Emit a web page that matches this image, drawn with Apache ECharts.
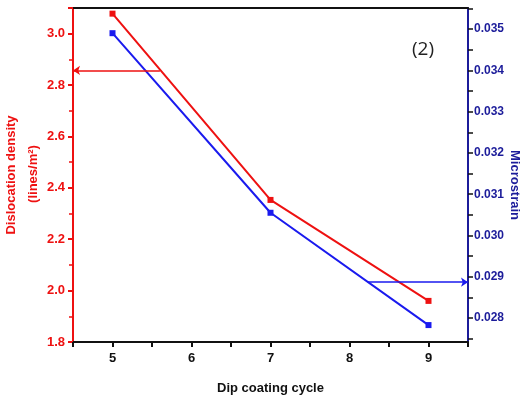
<!DOCTYPE html>
<html>
<head>
<meta charset="utf-8">
<script src="https://cdn.jsdelivr.net/npm/echarts@6/dist/echarts.min.js"></script>
<style>html,body{margin:0;padding:0;background:#fff;}#c{width:523px;height:403px;}</style>
</head>
<body>
<div id="c"></div>
<script>
// ---- data ----
const cycles = [5, 7, 9];
const dislocationDensity = [3.078, 2.353, 1.96];
const microstrain = [0.0349, 0.03055, 0.02783];
const xTickLabels = [5, 6, 7, 8, 9];
const leftTickLabels = [1.8, 2.0, 2.2, 2.4, 2.6, 2.8, 3.0];
const rightTickLabels = [0.028, 0.029, 0.030, 0.031, 0.032, 0.033, 0.034, 0.035];
const rightMinorTicks = [0.0275, 0.0285, 0.0295, 0.0305, 0.0315, 0.0325, 0.0335, 0.0345, 0.0355];
const redArrow = [[5.6, 2.857], [4.5, 2.857]];
const blueArrow = [[8.23, 0.02887], [9.5, 0.02887]];

const RED = '#ee1111';
const BLUE = '#1a1aee';
const NAVY = '#1c1c9a';
const FONT = '"Liberation Sans", Arial, sans-serif';

const chart = echarts.init(document.getElementById('c'));
chart.setOption({
  animation: false,
  backgroundColor: '#fff',
  grid: { left: 73, right: 55, top: 8, bottom: 61 },
  xAxis: [{
    type: 'value', min: 4.5, max: 9.5, interval: 0.5,
    axisLine: { lineStyle: { color: '#111', width: 2 } },
    axisTick: { show: true, length: 5, lineStyle: { color: '#111', width: 2 } },
    axisLabel: {
      color: '#111', fontWeight: 'bold', fontSize: 13, fontFamily: FONT, margin: 10,
      formatter: v => (xTickLabels.indexOf(v) >= 0 ? String(v) : '')
    },
    splitLine: { show: false },
    name: 'Dip coating cycle', nameLocation: 'middle', nameGap: 40,
    nameTextStyle: { color: '#111', fontWeight: 'bold', fontSize: 13, fontFamily: FONT }
  }, {
    type: 'value', min: 4.5, max: 9.5, position: 'top',
    axisLine: { lineStyle: { color: '#111', width: 2 } },
    axisTick: { show: false }, axisLabel: { show: false }, splitLine: { show: false }
  }],
  yAxis: [{
    type: 'value', min: 1.8, max: 3.1, interval: 0.2, position: 'left',
    axisLine: { show: true, lineStyle: { color: RED, width: 2 } },
    axisTick: { show: true, length: 5, lineStyle: { color: RED, width: 2 } },
    minorTick: { show: true, splitNumber: 2, length: 4, lineStyle: { color: RED, width: 1.5 } },
    axisLabel: {
      color: RED, fontWeight: 'bold', fontSize: 13, fontFamily: FONT, margin: 8,
      formatter: v => { const r = Math.round(v * 10) / 10; return leftTickLabels.indexOf(r) >= 0 ? r.toFixed(1) : ''; }
    },
    splitLine: { show: false }
  }, {
    type: 'value', min: 0.02742, max: 0.03551, position: 'right',
    axisLine: { show: true, lineStyle: { color: NAVY, width: 2 } },
    axisTick: { show: true, length: 5, customValues: rightTickLabels.concat(rightMinorTicks), lineStyle: { color: '#111', width: 1.5 } },
    axisLabel: {
      color: NAVY, fontWeight: 'bold', fontSize: 12, fontFamily: FONT, margin: 6,
      customValues: rightTickLabels,
      formatter: v => v.toFixed(3)
    },
    splitLine: { show: false }
  }],
  series: [{
    type: 'line', yAxisIndex: 0,
    data: cycles.map((c, i) => [c, dislocationDensity[i]]),
    symbol: 'rect', symbolSize: 6,
    lineStyle: { color: RED, width: 2 }, itemStyle: { color: RED },
    markLine: {
      silent: true, symbol: ['none', 'arrow'], symbolSize: 7,
      label: { show: false },
      lineStyle: { color: RED, width: 1.5, type: 'solid' },
      data: [[{ coord: redArrow[0] }, { coord: redArrow[1] }]]
    }
  }, {
    type: 'line', yAxisIndex: 1,
    data: cycles.map((c, i) => [c, microstrain[i]]),
    symbol: 'rect', symbolSize: 6,
    lineStyle: { color: BLUE, width: 2 }, itemStyle: { color: BLUE },
    markLine: {
      silent: true, symbol: ['none', 'arrow'], symbolSize: 7,
      label: { show: false },
      lineStyle: { color: BLUE, width: 1.5, type: 'solid' },
      data: [[{ coord: blueArrow[0] }, { coord: blueArrow[1] }]]
    }
  }],
  graphic: [{
    type: 'text', x: 11, y: 175, rotation: Math.PI / 2,
    style: { text: 'Dislocation density', fill: RED, font: 'bold 13px ' + FONT, align: 'center', verticalAlign: 'middle' }
  }, {
    type: 'text', x: 33, y: 174, rotation: Math.PI / 2,
    style: { text: '(lines/m²)', fill: RED, font: 'bold 13px ' + FONT, align: 'center', verticalAlign: 'middle' }
  }, {
    type: 'text', x: 515, y: 185, rotation: -Math.PI / 2,
    style: { text: 'Microstrain', fill: NAVY, font: 'bold 13px ' + FONT, align: 'center', verticalAlign: 'middle' }
  }, {
    type: 'text', x: 423, y: 50,
    style: { text: '(2)', fill: '#222', font: '19px "Open Sans", "DejaVu Sans", sans-serif', align: 'center', verticalAlign: 'middle' }
  }]
});
</script>
</body>
</html>
